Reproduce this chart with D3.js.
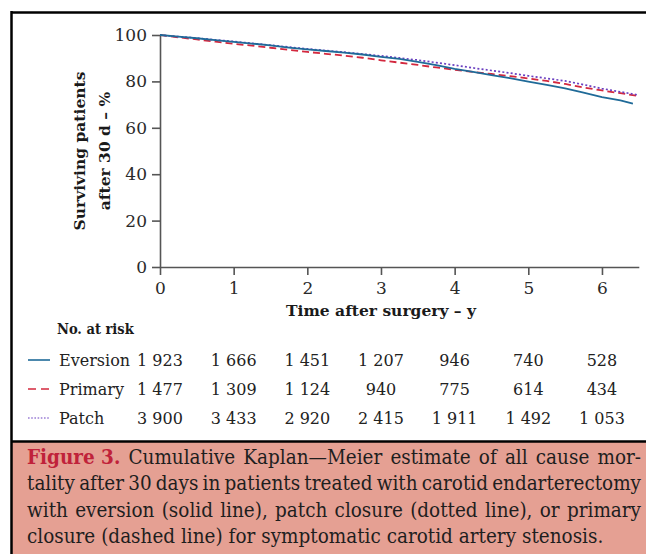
<!DOCTYPE html>
<html>
<head>
<meta charset="utf-8">
<script src="https://cdn.jsdelivr.net/npm/d3@7"></script>
<style>
  html, body { margin: 0; padding: 0; background: #ffffff; }
  svg { display: block; }
  text { font-family: "DejaVu Serif", serif; }
</style>
</head>
<body>
<svg id="chart" width="646" height="554"></svg>
<script>
// ---------- data ----------
const xTicks = [0, 1, 2, 3, 4, 5, 6];
const yTicks = [0, 20, 40, 60, 80, 100];

const seriesNames = ["Eversion", "Primary", "Patch"];

const eversionTime = [0,0.25,0.5,0.75,1,1.25,1.5,1.75,2,2.25,2.5,2.75,3,3.25,3.5,3.75,4,4.25,4.5,4.75,5,5.25,5.5,5.75,6,6.25,6.42];
const eversionSurv = [100,99.3,98.6,97.8,97.0,96.3,95.5,94.6,93.8,93.1,92.4,91.6,90.6,89.7,88.4,87.0,85.4,84.1,82.7,81.4,79.9,78.5,77.0,75.2,73.2,71.8,70.4];

const primaryTime = [0,0.25,0.5,0.75,1,1.25,1.5,1.75,2,2.25,2.5,2.75,3,3.25,3.5,3.75,4,4.25,4.5,4.75,5,5.25,5.5,5.75,6,6.25,6.48];
const primarySurv = [100,99.0,98.1,97.1,96.2,95.4,94.5,93.6,92.7,91.9,91.1,90.2,89.1,88.1,87.1,86.0,85.0,84.1,83.2,82.3,81.3,80.2,78.9,77.4,76.1,74.9,73.8];

const patchTime = [0,0.25,0.5,0.75,1,1.25,1.5,1.75,2,2.25,2.5,2.75,3,3.25,3.5,3.75,4,4.25,4.5,4.75,5,5.25,5.5,5.75,6,6.25,6.48];
const patchSurv = [100,99.3,98.7,97.9,97.2,96.4,95.6,94.8,94.0,93.3,92.6,91.8,91.0,90.1,89.2,88.1,87.0,85.8,84.7,83.6,82.4,81.3,80.2,78.6,76.9,75.5,74.2];

const eversionRisk = ["1 923","1 666","1 451","1 207","946","740","528"];
const primaryRisk  = ["1 477","1 309","1 124","940","775","614","434"];
const patchRisk    = ["3 900","3 433","2 920","2 415","1 911","1 492","1 053"];

const captionLabel = "Figure 3.";
const captionLines = [
  "Cumulative Kaplan—Meier estimate of all cause mor-",
  "tality after 30 days in patients treated with carotid endarterectomy",
  "with eversion (solid line), patch closure (dotted line), or primary",
  "closure (dashed line) for symptomatic carotid artery stenosis."
];

// ---------- styles ----------
const colors = { Eversion: "#1f6a98", Primary: "#d3283e", Patch: "#6a3fc0" };
const dashes = { Eversion: null, Primary: "7,4", Patch: "2,2.2" };
const capFont = "'DejaVu Serif Condensed', 'DejaVu Serif', serif";
const condBold = "'DejaVu Serif Condensed', 'DejaVu Serif', serif";

const svg = d3.select("#chart");

// frame
svg.append("rect").attr("x", 0).attr("y", 0).attr("width", 646).attr("height", 554).attr("fill", "#fff");
svg.append("rect").attr("x", 11).attr("y", 441).attr("width", 640).attr("height", 120).attr("fill", "#e5a093");
svg.append("line").attr("x1", 11).attr("x2", 646).attr("y1", 12.5).attr("y2", 12.5).attr("stroke", "#000").attr("stroke-width", 2.5);
svg.append("line").attr("x1", 11).attr("x2", 646).attr("y1", 441.5).attr("y2", 441.5).attr("stroke", "#000").attr("stroke-width", 2.5);
svg.append("line").attr("x1", 11.5).attr("x2", 11.5).attr("y1", 11).attr("y2", 554).attr("stroke", "#000").attr("stroke-width", 2.5);

// scales
const x = d3.scaleLinear().domain([0, 6.5]).range([160, 638.8]);
const y = d3.scaleLinear().domain([0, 100]).range([267, 35]);

// axes
const xAxis = d3.axisBottom(x).tickValues(xTicks).tickSize(8).tickSizeOuter(0).tickPadding(7).tickFormat(d3.format("d"));
const yAxis = d3.axisLeft(y).tickValues(yTicks).tickSize(8).tickSizeOuter(0).tickPadding(5).tickFormat(d3.format("d"));

const gx = svg.append("g").attr("transform", "translate(0,267)").call(xAxis);
const gy = svg.append("g").attr("transform", "translate(160,0)").call(yAxis);
[gx, gy].forEach(g => {
  g.select(".domain").attr("stroke", "#555").attr("stroke-width", 1.6);
  g.selectAll(".tick line").attr("stroke", "#555").attr("stroke-width", 1.6);
  g.selectAll(".tick text").attr("fill", "#2a2a2a").style("font-size", "17px").style("font-family", "DejaVu Serif, serif");
});

// curves
const line = d3.line().x(d => x(d[0])).y(d => y(d[1]));
const seriesData = {
  Eversion: d3.zip(eversionTime, eversionSurv),
  Primary: d3.zip(primaryTime, primarySurv),
  Patch: d3.zip(patchTime, patchSurv)
};
["Primary", "Patch", "Eversion"].forEach(name => {
  svg.append("path")
    .datum(seriesData[name])
    .attr("d", line)
    .attr("fill", "none")
    .attr("stroke", colors[name])
    .attr("stroke-width", name === "Patch" ? 1.7 : 1.8)
    .attr("stroke-dasharray", dashes[name]);
});

// axis titles
svg.append("text")
  .attr("x", 381).attr("y", 316)
  .attr("text-anchor", "middle")
  .style("font-size", "15.5px").style("font-weight", "bold").attr("fill", "#1a1a1a")
  .text("Time after surgery – y");

const yTitle = svg.append("text")
  .attr("transform", "translate(0,151) rotate(-90)")
  .attr("text-anchor", "middle")
  .style("font-size", "15.5px").style("font-weight", "bold").attr("fill", "#1a1a1a");
yTitle.append("tspan").attr("x", 0).attr("y", 85).text("Surviving patients");
yTitle.append("tspan").attr("x", 0).attr("y", 109.5).text("after 30 d – %");

// risk table
svg.append("text")
  .attr("x", 57).attr("y", 334)
  .style("font-family", condBold)
  .style("font-size", "14.5px").style("font-weight", "bold").attr("fill", "#1a1a1a")
  .text("No. at risk");

const riskRows = [
  { name: "Eversion", values: eversionRisk, y: 366 },
  { name: "Primary", values: primaryRisk, y: 395 },
  { name: "Patch", values: patchRisk, y: 424 }
];
riskRows.forEach(row => {
  svg.append("line")
    .attr("x1", 28).attr("x2", 50)
    .attr("y1", row.y - 6).attr("y2", row.y - 6)
    .attr("stroke", colors[row.name])
    .attr("stroke-width", row.name === "Patch" ? 1.1 : 1.6)
    .attr("stroke-dasharray", row.name === "Primary" ? "8,5" : (row.name === "Patch" ? "1.6,1.6" : null));
  svg.append("text")
    .attr("x", 59).attr("y", row.y)
    .style("font-size", "16px").attr("fill", "#222")
    .text(row.name);
  svg.selectAll(null)
    .data(row.values)
    .enter().append("text")
    .attr("x", (d, i) => x(xTicks[i]))
    .attr("y", row.y)
    .attr("text-anchor", "middle")
    .style("font-size", "16px").attr("fill", "#222")
    .text(d => d);
});

// caption (justified)
const capLeft = 27, capRight = 641;
const baselines = [463.5, 490, 516.5, 543];
// fit font size so the last (unjustified) line has the reference width
const probe = svg.append("text").style("font-family", capFont).style("font-size", "100px").text(captionLines[3]);
const probeW = probe.node().getComputedTextLength();
probe.remove();
const capSize = Math.min(20.5, 100 * (603 - capLeft) / probeW);

captionLines.forEach((ln, li) => {
  const words = [];
  if (li === 0) words.push({ t: captionLabel, bold: true });
  ln.split(" ").forEach(w => words.push({ t: w, bold: false }));
  const nodes = words.map(w => svg.append("text")
    .attr("y", baselines[li])
    .style("font-family", capFont)
    .style("font-size", capSize + "px")
    .style("font-weight", w.bold ? "bold" : "normal")
    .attr("fill", w.bold ? "#c0223a" : "#1e1e1e")
    .text(w.t));
  const widths = nodes.map(n => n.node().getComputedTextLength());
  const total = d3.sum(widths);
  const justify = li < captionLines.length - 1;
  const spaceW = capSize * 0.29;
  const gap = justify ? (capRight - capLeft - total) / (words.length - 1) : spaceW;
  let cx = capLeft;
  nodes.forEach((n, i) => { n.attr("x", cx); cx += widths[i] + gap; });
});
</script>
</body>
</html>
